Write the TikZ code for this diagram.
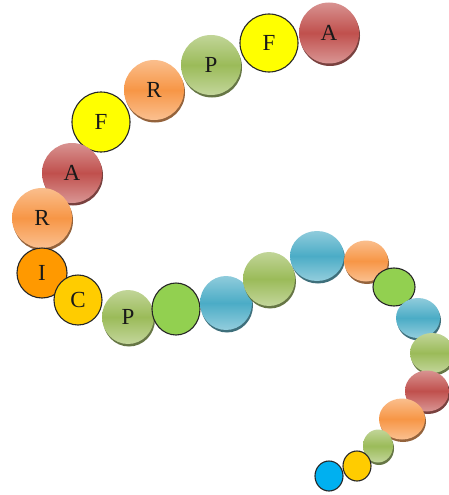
\documentclass[tikz,border=0pt]{standalone}
\usepackage{fontspec}
\setmainfont{Liberation Serif}
\usetikzlibrary{shapes.geometric,shadows}

\definecolor{beadred}{HTML}{C0504D}
\definecolor{beadorange}{HTML}{F79646}
\definecolor{beadolive}{HTML}{9BBB59}
\definecolor{beadblue}{HTML}{4BACC6}
\definecolor{beadyellow}{HTML}{FFFF00}
\definecolor{beaddarkorange}{HTML}{FF9900}
\definecolor{beadgold}{HTML}{FFCC00}
\definecolor{beadgreen}{HTML}{92D050}
\definecolor{beadcyan}{HTML}{00B0F0}

\tikzset{
  bead/.style 2 args={ellipse, inner sep=0pt, minimum width=#1, minimum height=#2,
    font=\fontsize{23}{23}\selectfont, text=black!90},
  gloss/.style={top color=#1!62!white, bottom color=#1!60!white, middle color=#1,
    drop shadow={shadow xshift=1pt, shadow yshift=-2.5pt, fill=#1!55!black, opacity=0.9}},
  flat/.style={fill=#1, draw=black!85, line width=1.1pt},
}

\begin{document}
\begin{tikzpicture}[x=1pt,y=-1pt]
\useasboundingbox (0,0) rectangle (448,495);

% lettered chain, top arc
\node[bead={60pt}{61pt}, gloss=beadred]    (a1) at (329,33)  {A};
\node[bead={58pt}{58pt}, flat=beadyellow]  (f1) at (269,43)  {F};
\node[bead={60pt}{60pt}, gloss=beadolive]  (p1) at (211,65)  {P};
\node[bead={60pt}{60pt}, gloss=beadorange] (r1) at (154,90)  {R};
\node[bead={58pt}{60pt}, flat=beadyellow]  (f2) at (101,122) {F};
\node[bead={60pt}{60pt}, gloss=beadred]    (a2) at (72,173)  {A};
\node[bead={60pt}{60pt}, gloss=beadorange] (r2) at (42,218)  {R};
\node[bead={50pt}{50pt}, flat=beaddarkorange] (i1) at (42,273) {I};
\node[bead={48pt}{50pt}, flat=beadgold]    (c1) at (78,300)  {C};
\node[bead={52pt}{54pt}, gloss=beadolive]  (p2) at (128,317) {P};

% plain beads, lower wave
\node[bead={48pt}{52pt}, flat=beadgreen]   (b1)  at (176,309) {};
\node[bead={52pt}{54pt}, gloss=beadblue]   (b2)  at (226,303) {};
\node[bead={52pt}{54pt}, gloss=beadolive]  (b3)  at (269,279) {};
\node[bead={54pt}{50pt}, gloss=beadblue]   (b4)  at (317,256) {};
\node[bead={44pt}{41pt}, gloss=beadorange] (b5)  at (366,261) {};
\node[bead={42pt}{38pt}, flat=beadgreen]   (b6)  at (394,287) {};
\node[bead={44pt}{40pt}, gloss=beadblue]   (b7)  at (418,318) {};
\node[bead={44pt}{40pt}, gloss=beadolive]  (b8)  at (432,353) {};
\node[bead={44pt}{41pt}, gloss=beadred]    (b9)  at (427,391) {};
\node[bead={46pt}{41pt}, gloss=beadorange] (b10) at (402,419) {};
\node[bead={30pt}{33pt}, gloss=beadolive]  (b11) at (378,446) {};
\node[bead={28pt}{30pt}, flat=beadgold]    (b12) at (357,466) {};
\node[bead={28pt}{30pt}, flat=beadcyan]    (b13) at (329,476) {};
\end{tikzpicture}
\end{document}
